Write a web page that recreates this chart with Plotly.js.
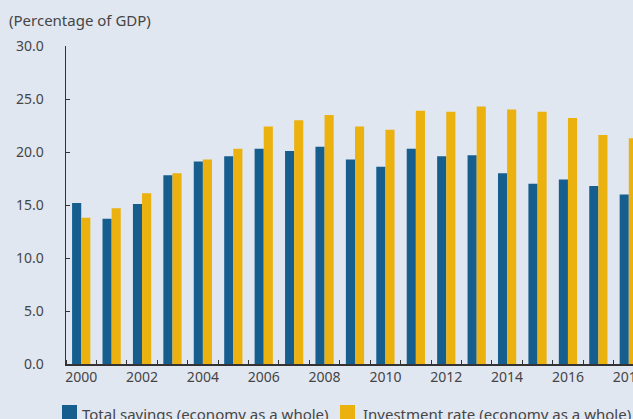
<!DOCTYPE html>
<html>
<head>
<meta charset="utf-8">
<script src="https://cdn.plot.ly/plotly-3.0.1.min.js"></script>
<style>
html,body{margin:0;padding:0;overflow:hidden;background:#e1e7f1;}
#chart{width:680px;height:440px;}
</style>
</head>
<body>
<div id="chart"></div>
<script>
const years = [2000,2001,2002,2003,2004,2005,2006,2007,2008,2009,2010,2011,2012,2013,2014,2015,2016,2017,2018];
const totalSavings = [15.2,13.7,15.1,17.8,19.1,19.6,20.3,20.1,20.5,19.3,18.6,20.3,19.6,19.7,18.0,17.0,17.4,16.8,16.0];
const investmentRate = [13.8,14.7,16.1,18.0,19.3,20.3,22.4,23.0,23.5,22.4,22.1,23.9,23.8,24.3,24.0,23.8,23.2,21.6,21.3];
const seriesNames = ["Total savings (economy as a whole)", "Investment rate (economy as a whole)"];
const seriesColors = ['#165e8e', '#ebb10f'];
const yTicks = [0,5,10,15,20,25,30];
const xTicks = [2000,2002,2004,2006,2008,2010,2012,2014,2016,2018];

const font = "'Noto Sans', 'Open Sans', sans-serif";
const txt = "#454545";

const W = 680, H = 440, mL = 66, mR = 36, mT = 46, mB = 76;
const pw = W - mL - mR, ph = H - mT - mB;
const px = v => (v - mL) / pw;
const py = v => (H - mB - v) / ph;

const data = [
  {type:'bar', x:years, y:totalSavings, name:seriesNames[0], marker:{color:seriesColors[0]}},
  {type:'bar', x:years, y:investmentRate, name:seriesNames[1], marker:{color:seriesColors[1]}}
];

// custom legend (layout only)
const legendItems = [{sx:62, tx:80}, {sx:340, tx:361}];
const shapes = legendItems.map((it, i) => ({
  type:'rect', xref:'paper', yref:'paper',
  x0:px(it.sx), x1:px(it.sx+15), y0:py(420), y1:py(405),
  fillcolor:seriesColors[i], line:{width:0}
}));
const annotations = legendItems.map((it, i) => ({
  text:seriesNames[i], xref:'paper', yref:'paper', x:px(it.tx), y:py(414),
  xanchor:'left', yanchor:'middle', showarrow:false,
  font:{family:font, size:15, color:txt}
}));
annotations.push({text:'(Percentage of GDP)', xref:'paper', yref:'paper', x:px(7), y:py(20),
  xanchor:'left', yanchor:'middle', showarrow:false, font:{family:font, size:15, color:txt}});

const layout = {
  width:W, height:H,
  paper_bgcolor:'#e1e7f1', plot_bgcolor:'#e1e7f1',
  margin:{l:mL, r:mR, t:mT, b:mB},
  barmode:'group', bargap:0.4, bargroupgap:0,
  font:{family:font, color:txt, size:14},
  showlegend:false,
  xaxis:{range:[1999.5,2018.5], tickvals:xTicks, ticktext:xTicks.map(String),
         showgrid:false, zeroline:false, showline:true, linecolor:'#333', linewidth:1.5,
         ticks:'', tickfont:{size:14, color:txt},
         minor:{tick0:2000.5, dtick:1, ticks:'inside', ticklen:4, tickcolor:'#333', showgrid:false}},
  yaxis:{range:[0,30], tickvals:yTicks, tickformat:'.1f', showgrid:false, zeroline:false,
         showline:true, linecolor:'#333', linewidth:1.5, ticks:'inside', ticklen:4, tickcolor:'#333',
         tickfont:{size:14, color:txt}, ticklabelstandoff:18},
  shapes:shapes,
  annotations:annotations
};

Plotly.newPlot('chart', data, layout, {displayModeBar:false, staticPlot:true});
</script>
</body>
</html>
